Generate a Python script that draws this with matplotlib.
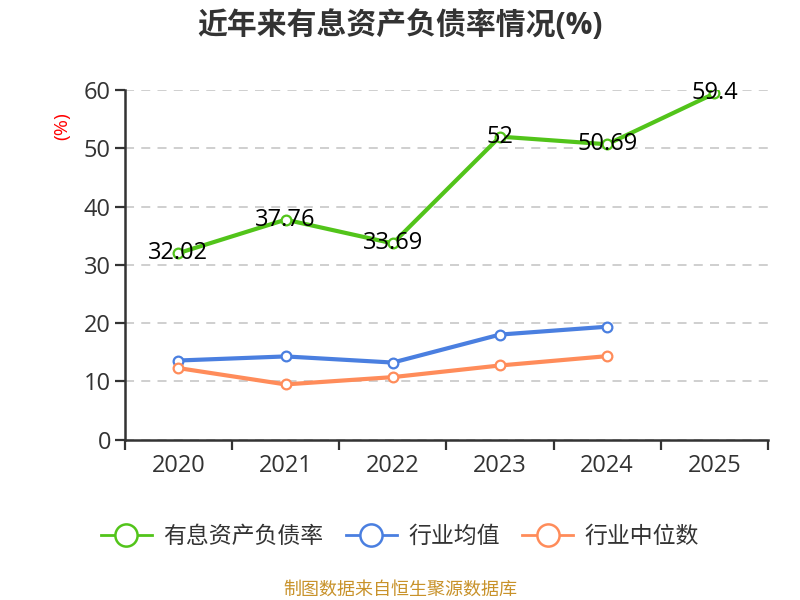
import matplotlib
matplotlib.use("Agg")
import matplotlib.pyplot as plt
from matplotlib.lines import Line2D

plt.rcParams['font.family'] = ['Open Sans', 'Noto Sans CJK SC', 'DejaVu Sans']

years = ['2020', '2021', '2022', '2023', '2024', '2025']
debt_ratio = [32.02, 37.76, 33.69, 52, 50.69, 59.4]
industry_avg = [13.6, 14.3, 13.25, 18.05, 19.4]
industry_median = [12.3, 9.5, 10.75, 12.75, 14.35]

green = '#52C41A'
blue = '#4A7FE0'
orange = '#FF8C5A'

fig = plt.figure(figsize=(8, 6), dpi=100)
ax = fig.add_axes([0.156, 0.267, 0.804, 0.583])

x = list(range(len(years)))
ax.plot(x, debt_ratio, color=green, lw=3, marker='o', ms=7, mfc='white', mew=1.6, zorder=3)
ax.plot(x[:len(industry_avg)], industry_avg, color=blue, lw=3, marker='o', ms=7, mfc='white', mew=1.6, zorder=3)
ax.plot(x[:len(industry_median)], industry_median, color=orange, lw=3, marker='o', ms=7, mfc='white', mew=1.6, zorder=3)

for xi, v in zip(x, debt_ratio):
    ax.text(xi, v, f'{v:g}', ha='center', va='center', fontsize=17, color='black', zorder=4)

ax.set_xlim(-0.5, len(years) - 0.5)
ax.set_ylim(0, 60)
ax.set_yticks(range(0, 61, 10))
ax.set_xticks(x)
ax.set_xticklabels(years)
ax.set_xticks([i - 0.5 for i in range(len(years) + 1)], minor=True)
ax.tick_params(axis='x', which='major', length=0, pad=10, labelsize=17, labelcolor='#333333')
ax.tick_params(axis='x', which='minor', length=7, width=1.6, color='#333333', direction='out')
ax.tick_params(axis='y', length=7, width=1.6, color='#333333', labelsize=17, labelcolor='#333333', pad=3)
ax.grid(axis='y', color='#CCCCCC', ls=(0, (5, 4)), lw=1.3)
ax.set_axisbelow(True)
for s in ['top', 'right']:
    ax.spines[s].set_visible(False)
for s in ['left', 'bottom']:
    ax.spines[s].set_color('#333333')
    ax.spines[s].set_linewidth(1.8)

fig.text(0.078, 0.79, '(%)', color='red', fontsize=14, rotation=90, ha='center', va='center')
fig.text(0.5, 0.958, '近年来有息资产负债率情况(%)', fontsize=21.5, fontweight='bold', color='#333333',
         ha='center', va='center')

handles = [Line2D([], [], color=c, lw=2, marker='o', ms=16, mfc='white', mew=1.8)
           for c in (green, blue, orange)]
fig.legend(handles, ['有息资产负债率', '行业均值', '行业中位数'], loc='center', ncol=3,
           bbox_to_anchor=(0.5, 0.105), frameon=False, fontsize=16.5, handlelength=2.2,
           columnspacing=1.0, handletextpad=0.5, labelcolor='#333333')

fig.text(0.5, 0.018, '制图数据来自恒生聚源数据库', fontsize=13, color='#C8922A', ha='center', va='center')

fig.savefig('out.png', dpi=100)
